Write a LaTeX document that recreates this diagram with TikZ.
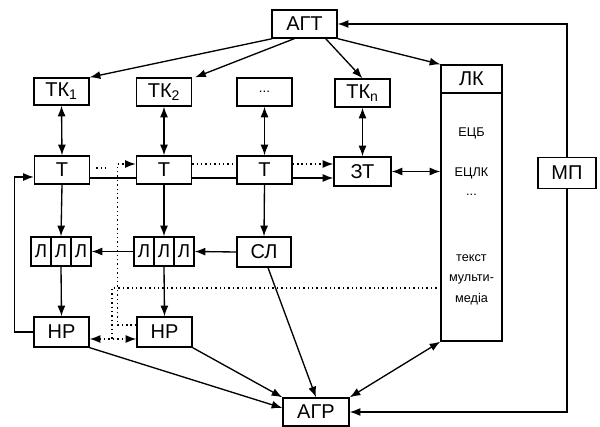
\documentclass[tikz,border=0pt]{standalone}
\usepackage{fontspec}
\setmainfont{Liberation Sans}
\usetikzlibrary{arrows.meta,calc}
\begin{document}
\begin{tikzpicture}[x=0.75pt,y=-0.75pt,
  line width=1pt,
  box/.style={draw,rectangle,inner sep=0pt,minimum width=41.25pt,minimum height=21pt,font=\fontsize{15}{17}\selectfont},
  cell/.style={draw,rectangle,inner sep=0pt,minimum width=15pt,minimum height=21.75pt,font=\fontsize{14}{16}\selectfont},
  small/.style={font=\fontsize{9.5}{11}\selectfont},
  arr/.style={-{Latex[length=8pt,width=6pt]}},
  darr/.style={{Latex[length=8pt,width=6pt]}-{Latex[length=8pt,width=6pt]}},
  dot/.style={line width=1.1pt,dash pattern=on 1.1pt off 2.2pt}
]
\useasboundingbox (0,0) rectangle (600,427);

% nodes
\node[box,minimum width=48.75pt] (agt) at (304.5,24) {АГТ};
\node[box,minimum height=20.25pt] (tk1) at (61.5,91.5) {ТК\textsubscript{1}};
\node[box] (tk2) at (164,92) {ТК\textsubscript{2}};
\node[box] (tkd) at (264.5,92) {\fontsize{10}{12}\selectfont ...};
\node[box] (tkn) at (362.5,93) {ТК\textsubscript{n}};

\node[box] (t1) at (62,170) {Т};
\node[box] (t2) at (164,170) {Т};
\node[box] (t3) at (264.5,170) {Т};
\node[box,minimum width=42.75pt,minimum height=21.75pt] (zt) at (362.5,171.5) {ЗТ};

\node[cell] (l1a) at (41,251.5) {Л};
\node[cell] (l1b) at (61,251.5) {Л};
\node[cell] (l1c) at (81,251.5) {Л};
\node[cell] (l2a) at (144,251.5) {Л};
\node[cell] (l2b) at (164,251.5) {Л};
\node[cell] (l2c) at (184,251.5) {Л};
\node[box,minimum width=40.5pt,minimum height=22.5pt] (sl) at (264,252) {СЛ};

\node[box,minimum height=22.5pt] (nr1) at (61.5,332) {НР};
\node[box,minimum height=22.5pt] (nr2) at (164.5,332) {НР};
\node[box,minimum width=49.5pt] (agr) at (316,412) {АГР};

\node[box,minimum width=45.75pt] (lk) at (471.5,79) {ЛК};
\node[draw,rectangle,inner sep=0pt,minimum width=45.75pt,minimum height=186pt] (lkb) at (471.5,217) {};
\node[small] (t-ecb) at (471.5,133) {ЕЦБ};
\node[small] (t-eclk) at (471.5,173) {ЕЦЛК};
\node[small] (t-dots) at (471.5,195) {...};
\node[small] (t-text) at (471.5,258) {текст};
\node[small] (t-multi) at (471.5,279) {мульти-};
\node[small] (t-media) at (471.5,299) {медіа};

\node[box,minimum width=43.5pt,minimum height=23.25pt] (mp) at (567,173) {МП};

% arrows from АГТ
\draw[arr] ($(agt.south west)+(1,0)$) -- (tk1.north east);
\draw[arr] ($(agt.south west)+(23,0)$) -- ($(tk2.north east)+(3,0)$);
\draw[arr] ($(agt.south east)+(-12,0)$) -- (tkn.north);
\draw[arr] (agt.south east) -- (lk.north west);

% МП loops
\draw[arr] (mp.north) |- (agt.east);
\draw[arr] (mp.south) |- (agr.east);

% ТК <-> Т
\draw[darr] (tk1.south) -- (t1.north);
\draw[darr] (tk2.south) -- (t2.north);
\draw[darr] (tkd.south) -- (t3.north);
\draw[darr] (tkn.south) -- (zt.north);

% Т chain (solid)
\draw ($(t1.east)+(0,8)$) -- ($(t2.west)+(0,8)$);
\draw ($(t2.east)+(0,8)$) -- ($(t3.west)+(0,8)$);
\draw[arr] ($(t3.east)+(0,8)$) -- ($(zt.west)+(0,6.5)$);

% Т chain (dotted)
\draw[dot] ($(t1.east)+(6,-2)$) -- ($(t1.east)+(19,-2)$);
\draw[dot] ($(t2.east)+(0,-6)$) -- ($(t3.west)+(0,-6)$);
\draw[dot,arr] ($(t3.east)+(0,-6)$) -- ($(zt.west)+(0,-7.5)$);

% ЗТ <-> ЛК
\draw[darr] (zt.east) -- (zt.east -| lkb.west);

% Т -> Л, СЛ
\draw[arr] (t1.south) -- (l1b.north);
\draw[arr] (t2.south) -- (l2b.north);
\draw[arr] (t3.south) -- (sl.north);
\draw[arr] (sl.west) -- (l2c.east);
\draw[arr] (l2a.west) -- (l1c.east);

% Л -> НР
\draw[arr] (l1b.south) -- (nr1.north);
\draw[arr] (l2b.south) -- (nr2.north);

% НР1 feedback to Т1
\draw[arr] (nr1.west) -- ++(-19,0) |- ($(t1.west)+(0,7)$);

% dotted НР2 feedback to Т2
\draw[dot,arr] ($(nr2.west)+(0,-7)$) -- ++(-19,0) |- ($(t2.west)+(0,-6)$);

% dotted НР1 <-> НР2 and ЛК dotted line
\draw[dot,darr] ($(nr1.east)+(0,7)$) -- ($(nr2.west)+(0,7)$);
\coordinate (jn) at (112,339);
\coordinate (lkd) at (441,288);
\draw[dot] (lkd) -| (jn);

% to АГР
\draw[arr] (nr1.south east) -- ($(agr.west)+(0,-4)$);
\draw[arr] (nr2.south east) -- (agr.north west);
\draw[arr] ($(sl.south)+(4,0)$) -- (agr.north);
\draw[darr] (lkb.south west) -- (agr.north east);
\end{tikzpicture}
\end{document}
